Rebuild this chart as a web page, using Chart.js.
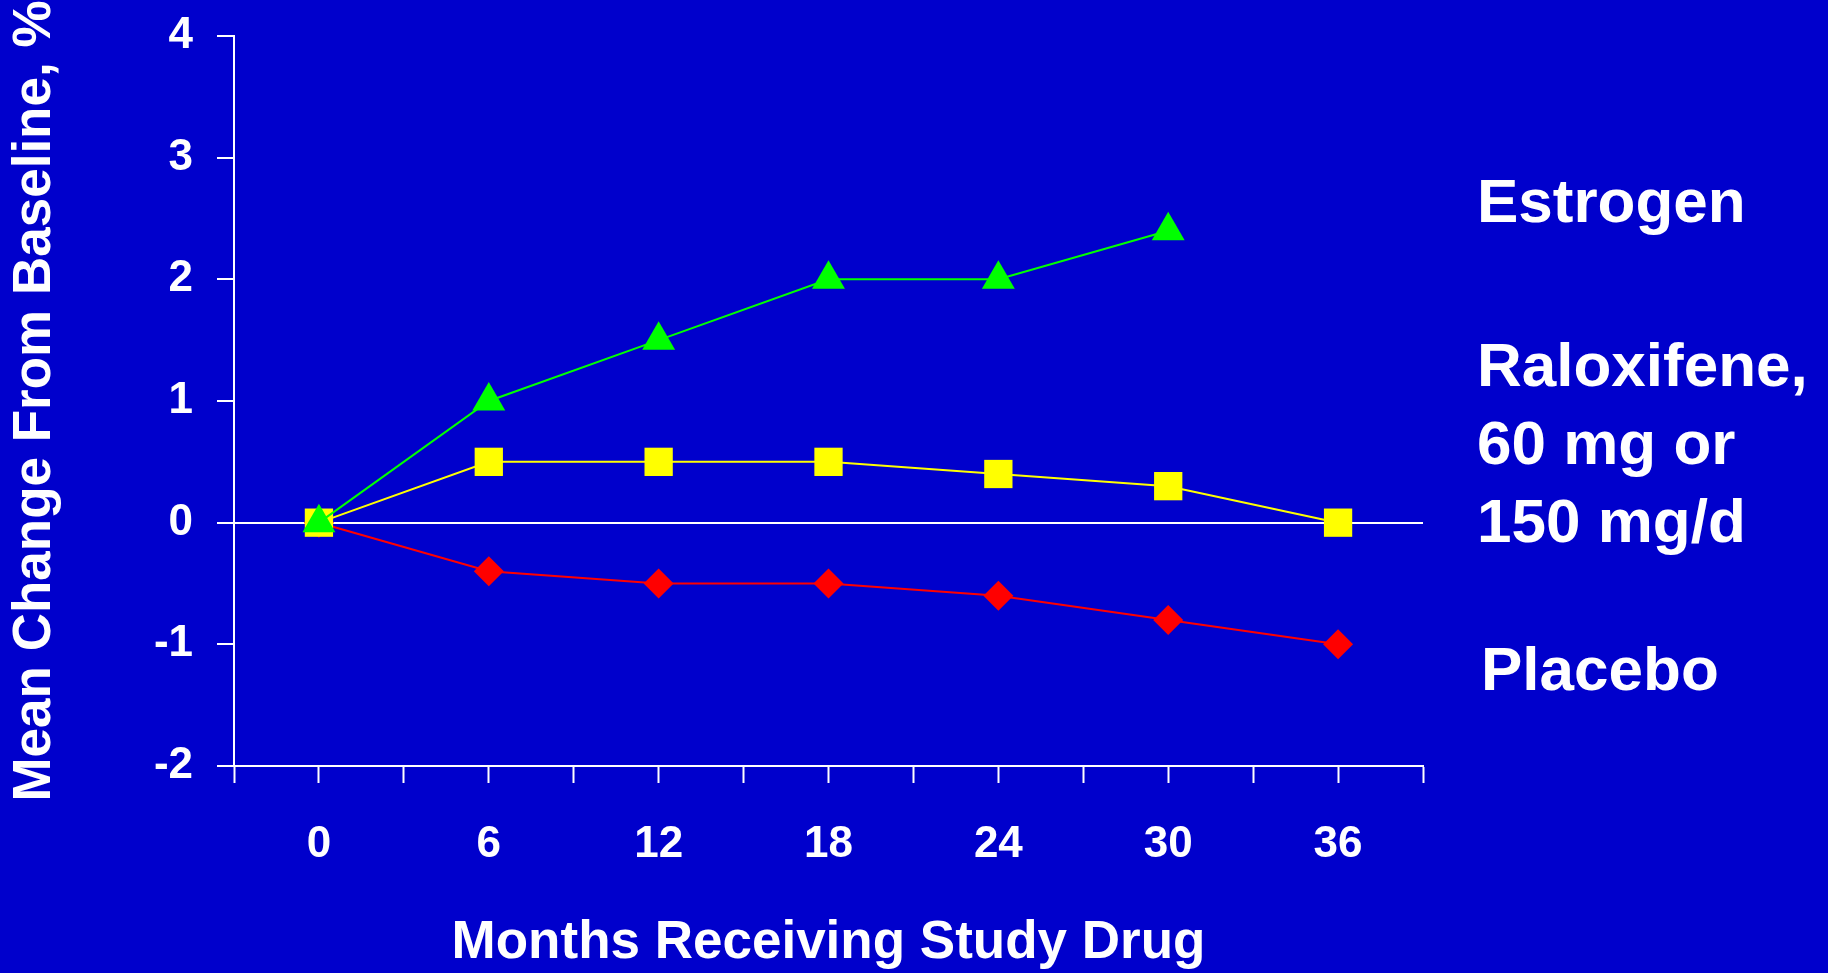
<!DOCTYPE html>
<html lang="en">
<head>
  <meta charset="UTF-8" />
  <title>Mean Change From Baseline</title>
  <script src="https://cdn.jsdelivr.net/npm/chart.js"></script>
  <style>
    body { margin: 0; background: #0000cc; }
    .wrap { position: relative; width: 1828px; height: 973px; overflow: hidden; }
    .label {
      position: absolute;
      color: #fff;
      font-family: "Liberation Sans", Arial, sans-serif;
      font-weight: bold;
      font-size: 62px;
      white-space: nowrap;
    }
  </style>
</head>
<body>
  <div class="wrap">
    <canvas id="chart" width="1828" height="973"></canvas>
    <div class="label" style="left:1477px; top:170px; line-height:62px;">Estrogen</div>
    <div class="label" style="left:1477px; top:326px; line-height:78px;">Raloxifene,<br>60 mg or<br>150 mg/d</div>
    <div class="label" style="left:1481px; top:638px; line-height:62px;">Placebo</div>
  </div>

  <script>
    // values
    const months = [0, 6, 12, 18, 24, 30, 36];
    const estrogen = [0, 1, 1.5, 2, 2, 2.4];
    const raloxifene = [0, 0.5, 0.5, 0.5, 0.4, 0.3, 0];
    const placebo = [0, -0.4, -0.5, -0.5, -0.6, -0.8, -1.0];

    const FONT = '"Liberation Sans", Arial, sans-serif';
    const WHITE = '#ffffff';

    function toPoints(vals) {
      return vals.map((v, i) => ({ x: months[i], y: v }));
    }

    // paint the slide blue behind everything
    const bgPlugin = {
      id: 'bg',
      beforeDraw(chart) {
        const c = chart.ctx;
        c.save();
        c.fillStyle = '#0000cc';
        c.fillRect(0, 0, chart.width, chart.height);
        c.restore();
      }
    };

    const ctx = document.getElementById('chart').getContext('2d');
    const chart = new Chart(ctx, {
      type: 'line',
      data: {
        datasets: [
          {
            label: 'Estrogen',
            data: toPoints(estrogen),
            borderColor: '#00ff00',
            backgroundColor: '#00ff00',
            borderWidth: 2,
            pointStyle: 'triangle',
            pointRadius: 19,
            pointBorderWidth: 0,
            tension: 0
          },
          {
            label: 'Raloxifene',
            data: toPoints(raloxifene),
            borderColor: '#ffff00',
            backgroundColor: '#ffff00',
            borderWidth: 2,
            pointStyle: 'rect',
            pointRadius: 20,
            pointBorderWidth: 0,
            tension: 0
          },
          {
            label: 'Placebo',
            data: toPoints(placebo),
            borderColor: '#ff0000',
            backgroundColor: '#ff0000',
            borderWidth: 2,
            pointStyle: 'rectRot',
            pointRadius: 15,
            pointBorderWidth: 0,
            tension: 0
          }
        ]
      },
      options: {
        responsive: false,
        animation: false,
        clip: false,
        layout: { padding: { left: 0, right: 405, top: 36, bottom: 0 } },
        plugins: {
          legend: { display: false },
          tooltip: { enabled: false }
        },
        scales: {
          x: {
            type: 'linear',
            min: -3,
            max: 39,
            afterFit(scale) { scale.height = 207; },
            border: { display: true, color: WHITE, width: 2 },
            grid: {
              drawOnChartArea: false,
              drawTicks: true,
              tickLength: 17,
              tickColor: WHITE,
              tickWidth: 2
            },
            ticks: {
              stepSize: 3,
              autoSkip: false,
              maxRotation: 0,
              padding: 35,
              color: WHITE,
              font: { family: FONT, size: 44, weight: 'bold' },
              callback: (v) => months.includes(v) ? String(v) : ''
            },
            title: {
              display: true,
              text: 'Months Receiving Study Drug',
              color: WHITE,
              font: { family: FONT, size: 53, weight: 'bold', lineHeight: 1.1 },
              padding: { top: 0, bottom: 0 }
            }
          },
          y: {
            min: -2,
            max: 4,
            afterFit(scale) {
              scale.width = 234;
              // let the layout padding alone decide where the top sits
              scale.paddingTop = 0;
              scale.paddingBottom = 0;
            },
            border: { display: true, color: WHITE, width: 2 },
            grid: {
              color: (c) => (c.tick && c.tick.value === 0) ? WHITE : 'rgba(0,0,0,0)',
              lineWidth: 2,
              drawTicks: true,
              tickLength: 17,
              tickColor: WHITE,
              tickWidth: 2
            },
            ticks: {
              stepSize: 1,
              padding: 24,
              color: WHITE,
              font: { family: FONT, size: 44, weight: 'bold' }
            },
            title: {
              display: true,
              text: 'Mean Change From Baseline, %',
              color: WHITE,
              font: { family: FONT, size: 53, weight: 'bold', lineHeight: 1.1 },
              padding: { top: 6, bottom: 0 }
            }
          }
        }
      },
      plugins: [bgPlugin]
    });
  </script>
</body>
</html>
